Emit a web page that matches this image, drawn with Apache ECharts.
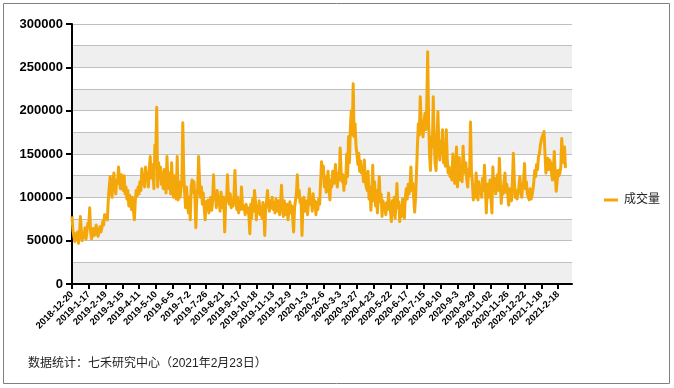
<!DOCTYPE html>
<html><head><meta charset="utf-8">
<script src="https://cdn.jsdelivr.net/npm/echarts@6/dist/echarts.min.js"></script>
<style>html,body{margin:0;padding:0;background:#fff}#c{width:674px;height:388px}</style>
</head><body><div id="c"></div>
<script>
const tickLabels = ['2018-12-20','2019-1-17','2019-2-19','2019-3-15','2019-4-11','2019-5-10','2019-6-5','2019-7-2','2019-7-26','2019-8-21','2019-9-17','2019-10-18','2019-11-13','2019-12-9','2020-1-3','2020-2-6','2020-3-3','2020-3-27','2020-4-23','2020-5-22','2020-6-17','2020-7-15','2020-8-10','2020-9-3','2020-9-29','2020-11-02','2020-11-26','2020-12-22','2021-1-18','2021-2-18'];
const seriesName = '成交量';
const footnote = '数据统计：七禾研究中心（2021年2月23日）';
const yTicks = [0, 50000, 100000, 150000, 200000, 250000, 300000];
const volume = [
78000,62000,55000,49000,58000,52000,60000,47000,56000,78000,62000,50000,58000,54000,65000,52000,60000,70000,
66000,88000,60000,52000,58000,64000,56000,62000,68000,58000,55000,62000,66000,60000,64000,72000,68000,80000,
76000,80000,74000,98000,112000,124000,108000,100000,118000,128000,112000,104000,120000,116000,135000,122000,110000,126000,
118000,108000,125000,104000,112000,98000,108000,90000,102000,95000,86000,100000,84000,74000,96000,108000,102000,112000,
104000,118000,108000,133000,115000,126000,112000,135000,120000,128000,112000,132000,147000,122000,138000,128000,110000,160000,
150000,204000,112000,140000,122000,135000,115000,128000,110000,132000,118000,105000,147000,120000,110000,128000,104000,140000,
115000,100000,125000,108000,98000,147000,97000,118000,100000,110000,120000,186000,128000,105000,88000,112000,95000,82000,
100000,74000,112000,120000,106000,118000,100000,65000,98000,110000,147000,118000,100000,112000,92000,105000,88000,74000,
95000,88000,97000,82000,92000,100000,85000,95000,126000,98000,105000,88000,108000,92000,100000,84000,106000,95000,
88000,100000,60000,92000,98000,126000,100000,92000,104000,88000,96000,90000,102000,131000,98000,86000,100000,82000,
94000,86000,112000,92000,86000,90000,80000,92000,84000,88000,78000,58000,92000,76000,98000,84000,108000,96000,
74000,90000,82000,96000,80000,88000,76000,94000,84000,56000,88000,96000,108000,92000,84000,96000,88000,100000,
86000,94000,82000,98000,90000,84000,96000,80000,92000,114000,90000,78000,96000,84000,80000,92000,74000,86000,
95000,82000,90000,76000,60000,88000,96000,104000,126000,100000,108000,94000,98000,56000,88000,100000,84000,96000,
90000,80000,96000,110000,92000,100000,84000,104000,88000,96000,80000,94000,86000,98000,92000,118000,141000,128000,
136000,112000,124000,106000,118000,130000,110000,97000,120000,112000,130000,116000,124000,138000,118000,112000,128000,120000,
157000,130000,118000,126000,108000,122000,116000,150000,124000,170000,140000,181000,200000,172000,231000,170000,185000,160000,
150000,138000,151000,130000,142000,128000,135000,118000,143000,120000,112000,108000,130000,98000,112000,85000,104000,137000,
96000,118000,90000,108000,82000,100000,124000,95000,104000,78000,96000,88000,92000,80000,94000,86000,105000,90000,
84000,72000,96000,80000,100000,76000,92000,116000,88000,95000,72000,90000,78000,98000,84000,76000,100000,110000,
98000,115000,104000,112000,135000,108000,116000,100000,83000,100000,128000,160000,185000,172000,216000,190000,176000,170000,
172000,197000,178000,205000,268000,190000,150000,131000,170000,158000,216000,165000,139000,131000,168000,199000,160000,143000,
165000,150000,178000,140000,150000,136000,178000,145000,128000,135000,124000,130000,120000,150000,132000,116000,138000,158000,
112000,130000,146000,120000,135000,118000,159000,138000,128000,140000,120000,112000,132000,125000,187000,130000,118000,97000,
110000,100000,128000,112000,97000,118000,105000,112000,100000,122000,108000,137000,110000,82000,115000,100000,108000,120000,
98000,82000,135000,110000,122000,104000,112000,126000,108000,145000,118000,93000,112000,104000,118000,128000,106000,115000,
104000,91000,110000,105000,96000,118000,151000,120000,100000,108000,98000,104000,112000,124000,108000,100000,112000,118000,
139000,110000,118000,104000,105000,97000,110000,98000,102000,108000,118000,131000,124000,138000,132000,147000,150000,160000,
166000,170000,172000,176000,150000,128000,138000,145000,132000,143000,140000,128000,120000,134000,153000,126000,107000,118000,
131000,125000,128000,135000,168000,150000,140000,158000,134000
];
const DAYS_PER_TICK = 18;
const categories = [];
tickLabels.forEach(function (l) { categories.push(l); for (let k = 1; k < DAYS_PER_TICK; k++) categories.push(''); });

const FONT = "'Liberation Sans', Arial, 'Noto Sans CJK SC', sans-serif";
const chart = echarts.init(document.getElementById('c'), null, {renderer: 'canvas'});
chart.setOption({
  animation: false,
  backgroundColor: '#fff',
  textStyle: {fontFamily: FONT},
  grid: {left: 72, right: 102, top: 24, bottom: 104, containLabel: false},
  legend: {
    data: [seriesName], left: 599, top: 189, icon: 'rect', itemWidth: 14, itemHeight: 3,
    textStyle: {fontSize: 12, color: '#222', fontFamily: FONT, padding: [0, 0, 0, 1]}
  },
  xAxis: {
    type: 'category', data: categories, boundaryGap: false, max: 537,
    axisLine: {lineStyle: {color: '#000', width: 2}},
    axisTick: {interval: DAYS_PER_TICK - 1, length: 5, lineStyle: {color: '#000', width: 2}},
    axisLabel: {interval: DAYS_PER_TICK - 1, rotate: 45, fontSize: 9.5, fontWeight: 'bold', color: '#000', margin: 9, fontFamily: FONT},
    splitLine: {show: false}
  },
  yAxis: [{
    type: 'value', min: 0, max: 300000, interval: 25000,
    axisLine: {show: false}, axisTick: {show: false}, axisLabel: {show: false},
    splitLine: {show: true, lineStyle: {color: '#bfbfbf', width: 1}},
    splitArea: {show: true, areaStyle: {color: ['#efefef', '#ffffff']}}
  }, {
    type: 'value', min: yTicks[0], max: yTicks[yTicks.length - 1], interval: yTicks[1] - yTicks[0], position: 'left',
    axisLine: {show: true, lineStyle: {color: '#000', width: 2}},
    axisTick: {show: true, length: 6, lineStyle: {color: '#000', width: 2}},
    axisLabel: {fontSize: 13, fontWeight: 'bold', color: '#000', margin: 9, fontFamily: FONT, formatter: function (v) { return String(v); }},
    splitLine: {show: false}, splitArea: {show: false}
  }],
  series: [{
    name: seriesName, type: 'line', data: volume, yAxisIndex: 0,
    showSymbol: false, symbol: 'none', z: 3,
    lineStyle: {color: '#F4A70B', width: 3, join: 'round'},
    itemStyle: {color: '#F4A70B'}
  }],
  graphic: [
    {type: 'rect', shape: {x: 3.5, y: 3.5, width: 666, height: 380}, style: {fill: 'none', stroke: '#808080', lineWidth: 1}, silent: true, z: 100},
    {type: 'text', left: 28, top: 358, style: {text: footnote, fontSize: 12, fill: '#222', fontFamily: FONT}}
  ]
});
</script></body></html>
